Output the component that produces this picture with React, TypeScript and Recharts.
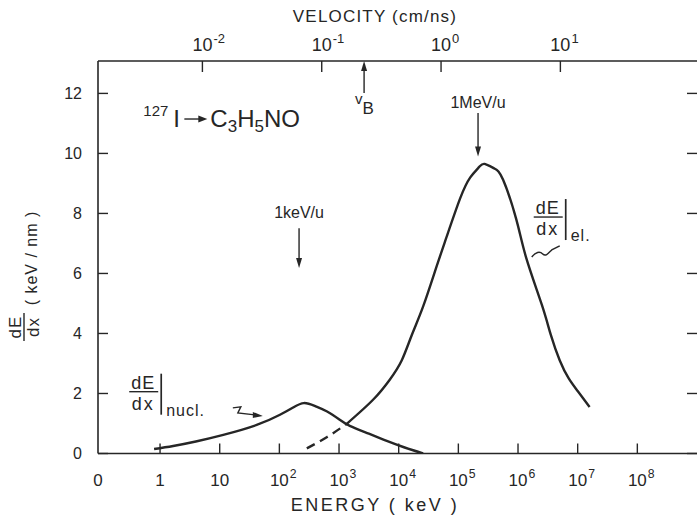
import React from 'react';
import { LineChart, Line, XAxis, YAxis, ReferenceLine, ReferenceDot } from 'recharts';

const INK = '#262626';
const FONT = '"Liberation Sans", Arial, sans-serif';

// frame of the plot in px (the right border sits just off the picture)
const LEFT = 98;
const TOP = 61;
const BOTTOM = 453.5;
const RIGHT = 697;

// x = log10(E / keV), y = dE/dx (keV/nm)
const nuclear = [
  { logE: -0.1, dedx: 0.15 },
  { logE: 0.22, dedx: 0.25 },
  { logE: 0.6, dedx: 0.4 },
  { logE: 1.06, dedx: 0.62 },
  { logE: 1.62, dedx: 0.95 },
  { logE: 2.01, dedx: 1.29 },
  { logE: 2.23, dedx: 1.53 },
  { logE: 2.41, dedx: 1.68 },
  { logE: 2.6, dedx: 1.58 },
  { logE: 2.8, dedx: 1.4 },
  { logE: 3.0, dedx: 1.14 },
  { logE: 3.18, dedx: 0.92 },
  { logE: 3.5, dedx: 0.66 },
  { logE: 3.8, dedx: 0.42 },
  { logE: 4.1, dedx: 0.2 },
  { logE: 4.41, dedx: 0 },
];

// dashed extrapolation of the electronic stopping
const electronicLow = [
  { logE: 2.46, dedx: 0.17 },
  { logE: 2.8, dedx: 0.55 },
  { logE: 3.13, dedx: 0.99 },
];

const electronic = [
  { logE: 3.13, dedx: 0.99 },
  { logE: 3.57, dedx: 1.79 },
  { logE: 3.85, dedx: 2.46 },
  { logE: 4.05, dedx: 3.1 },
  { logE: 4.22, dedx: 3.95 },
  { logE: 4.41, dedx: 4.9 },
  { logE: 4.63, dedx: 6.2 },
  { logE: 4.8, dedx: 7.2 },
  { logE: 5.03, dedx: 8.5 },
  { logE: 5.2, dedx: 9.2 },
  { logE: 5.35, dedx: 9.55 },
  { logE: 5.44, dedx: 9.65 },
  { logE: 5.6, dedx: 9.5 },
  { logE: 5.75, dedx: 9.12 },
  { logE: 5.97, dedx: 7.81 },
  { logE: 6.14, dedx: 6.5 },
  { logE: 6.4, dedx: 4.95 },
  { logE: 6.55, dedx: 3.95 },
  { logE: 6.7, dedx: 3.1 },
  { logE: 6.85, dedx: 2.5 },
  { logE: 7.0, dedx: 2.08 },
  { logE: 7.2, dedx: 1.55 },
];

const energyTicks = [-1.04, 0, 1, 2, 3, 4, 5, 6, 7, 8];
const energyLabels = ['0', '1', '10', '10^2', '10^3', '10^4', '10^5', '10^6', '10^7', '10^8'];
// velocity ticks, placed at their log10(E) position
const velocityTicks = [0.71, 2.71, 4.71, 6.71];
const velocityLabels = ['10^-2', '10^-1', '10^0', '10^1'];
const dedxTicks = [0, 2, 4, 6, 8, 10, 12];

const vBohr = 3.42;
const keVperU = 2.33;
const MeVperU = 5.33;

const Power = ({ x, y, text, size }: { x: number; y: number; text: string; size: number }) => {
  const [base, exp] = text.split('^');
  const half = (base.length * size * 0.556) / 2;
  return (
    <text x={x - half} y={y} fontSize={size} fontFamily={FONT} fill={INK}>
      {base}
      {exp !== undefined && (
        <tspan dx={1} dy={-size * 0.45} fontSize={size * 0.72}>
          {exp}
        </tspan>
      )}
    </text>
  );
};

const EnergyTick = (props: any) => {
  const { x, payload } = props;
  const i = energyTicks.indexOf(payload.value);
  return (
    <g>
      {i > 0 && <line x1={x} x2={x} y1={BOTTOM} y2={BOTTOM - 10} stroke={INK} strokeWidth={1.4} />}
      <Power x={x} y={BOTTOM + 32} text={energyLabels[i]} size={17} />
    </g>
  );
};

const VelocityTick = (props: any) => {
  const { x, payload } = props;
  const i = velocityTicks.indexOf(payload.value);
  return (
    <g>
      <line x1={x} x2={x} y1={TOP} y2={TOP + 11} stroke={INK} strokeWidth={1.4} />
      <Power x={x} y={TOP - 10} text={velocityLabels[i]} size={18} />
    </g>
  );
};

const DedxTick = (props: any) => {
  const { y, payload } = props;
  return (
    <g>
      <line x1={LEFT} x2={LEFT + 10} y1={y} y2={y} stroke={INK} strokeWidth={1.4} />
      <line x1={RIGHT - 10} x2={RIGHT} y1={y} y2={y} stroke={INK} strokeWidth={1.4} />
      <text x={LEFT - 16} y={y + 5.5} textAnchor="end" fontSize={16} fontFamily={FONT} fill={INK}>
        {payload.value}
      </text>
    </g>
  );
};

const arrowLine = (props: any) => {
  const { x1, y1, x2, y2 } = props;
  const dir = Math.sign(y2 - y1);
  return (
    <g>
      <line x1={x1} y1={y1} x2={x2} y2={y2 - dir * 6} stroke={INK} strokeWidth={1.4} />
      <path d={`M${x2},${y2} L${x2 - 3},${y2 - dir * 10} L${x2 + 3},${y2 - dir * 10} Z`} fill={INK} />
    </g>
  );
};

const Formula = ({ cx, cy }: any) => (
  <g fontFamily={FONT} fill={INK}>
    <text x={cx} y={cy} fontSize={24}>
      <tspan fontSize={15} dy={-11}>127</tspan>
      <tspan dy={11} dx={5}>I</tspan>
    </text>
    <line x1={cx + 41} x2={cx + 58} y1={cy - 8} y2={cy - 8} stroke={INK} strokeWidth={1.4} />
    <path d={`M${cx + 64},${cy - 8} L${cx + 55},${cy - 11.5} L${cx + 55},${cy - 4.5} Z`} fill={INK} />
    <text x={cx + 67} y={cy} fontSize={24}>
      C<tspan fontSize={17} dy={5}>3</tspan>
      <tspan dy={-5}>H</tspan>
      <tspan fontSize={17} dy={5}>5</tspan>
      <tspan dy={-5}>NO</tspan>
    </text>
  </g>
);

const Fraction = ({ cx, cy, sub }: any) => (
  <g fontFamily={FONT} fill={INK}>
    <text x={cx + 13} y={cy - 3} textAnchor="middle" fontSize={18} letterSpacing={1}>dE</text>
    <line x1={cx - 1} x2={cx + 28} y1={cy} y2={cy} stroke={INK} strokeWidth={1.4} />
    <text x={cx + 13} y={cy + 18} textAnchor="middle" fontSize={18} letterSpacing={2}>dx</text>
    <line x1={cx + 31} x2={cx + 31} y1={cy - 18} y2={cy + 23} stroke={INK} strokeWidth={1.7} />
    <text x={cx + 36} y={cy + 24} fontSize={16} letterSpacing={1}>{sub}</text>
  </g>
);

const Note = ({ cx, cy, text }: any) => (
  <text x={cx} y={cy} textAnchor="middle" fontSize={16} fontFamily={FONT} fill={INK}>
    {text}
  </text>
);

const VB = ({ cx, cy }: any) => (
  <text x={cx - 9} y={cy + 11} fontFamily={FONT} fill={INK} fontSize={15}>
    v<tspan dy={10} fontSize={17}>B</tspan>
  </text>
);

const nuclSquiggle = ({ cx, cy }: any) => (
  <g>
    <path
      d={`M${cx},${cy} L${cx + 8},${cy - 1} L${cx + 5},${cy + 5} L${cx + 22},${cy + 7}`}
      fill="none"
      stroke={INK}
      strokeWidth={1.4}
    />
    <path d={`M${cx + 30},${cy + 8} L${cx + 20},${cy + 4} L${cx + 20},${cy + 10} Z`} fill={INK} />
  </g>
);

const elSquiggle = ({ cx, cy }: any) => (
  <path
    d={`M${cx},${cy} C${cx + 4},${cy - 5} ${cx + 8},${cy - 6} ${cx + 11},${cy - 3} C${cx + 14},${cy} ${cx + 17},${cy - 4} ${cx + 20},${cy - 7} L${cx + 28},${cy - 11}`}
    fill="none"
    stroke={INK}
    strokeWidth={1.4}
  />
);

const TopTitle = () => (
  <text x={375} y={22} textAnchor="middle" fontSize={17} letterSpacing={1.2} fontFamily={FONT} fill={INK}>
    VELOCITY (cm/ns)
  </text>
);

const BottomTitle = () => (
  <text x={375} y={511} textAnchor="middle" fontSize={18} letterSpacing={2.5} fontFamily={FONT} fill={INK}>
    ENERGY ( keV )
  </text>
);

const YTitle = () => (
  <g transform="rotate(-90)" fontFamily={FONT} fill={INK}>
    <text x={-327} y={21} textAnchor="middle" fontSize={17} letterSpacing={1}>dE</text>
    <line x1={-341} x2={-313} y1={24} y2={24} stroke={INK} strokeWidth={1.4} />
    <text x={-327} y={39} textAnchor="middle" fontSize={17} letterSpacing={1}>dx</text>
    <text x={-258} y={37} textAnchor="middle" fontSize={16} letterSpacing={1}>( keV / nm )</text>
  </g>
);

const App = () => (
  <div style={{ position: 'absolute', left: 0, top: 0, background: '#fff' }}>
    <LineChart width={697} height={520} margin={{ top: 0, right: 0, bottom: 0, left: 0 }}>
      <XAxis
        dataKey="logE"
        type="number"
        domain={[-1.04, 9]}
        ticks={energyTicks}
        interval={0}
        tick={EnergyTick}
        tickLine={false}
        height={520 - BOTTOM}
        axisLine={{ stroke: INK, strokeWidth: 1.6 }}
        allowDataOverflow
        label={<BottomTitle />}
      />
      <XAxis
        xAxisId="v"
        orientation="top"
        dataKey="logE"
        type="number"
        domain={[-1.04, 9]}
        ticks={velocityTicks}
        interval={0}
        tick={VelocityTick}
        tickLine={false}
        height={TOP}
        axisLine={{ stroke: INK, strokeWidth: 1.6 }}
        allowDataOverflow
        label={<TopTitle />}
      />
      <YAxis
        type="number"
        domain={[0, 13.08]}
        ticks={dedxTicks}
        interval={0}
        tick={DedxTick}
        tickLine={false}
        width={LEFT}
        axisLine={{ stroke: INK, strokeWidth: 1.6 }}
        allowDataOverflow
        label={<YTitle />}
      />
      <Line
        data={nuclear}
        dataKey="dedx"
        type="natural"
        stroke={INK}
        strokeWidth={2.4}
        dot={false}
        isAnimationActive={false}
      />
      <Line
        data={electronicLow}
        dataKey="dedx"
        type="natural"
        stroke={INK}
        strokeWidth={2.4}
        strokeDasharray="9 6"
        dot={false}
        isAnimationActive={false}
      />
      <Line
        data={electronic}
        dataKey="dedx"
        type="natural"
        stroke={INK}
        strokeWidth={2.4}
        dot={false}
        isAnimationActive={false}
      />
      <ReferenceLine
        segment={[{ x: vBohr, y: 12.01 }, { x: vBohr, y: 13.08 }]}
        shape={arrowLine}
        ifOverflow="visible"
      />
      <ReferenceLine
        segment={[{ x: MeVperU, y: 11.35 }, { x: MeVperU, y: 9.9 }]}
        shape={arrowLine}
        ifOverflow="visible"
      />
      <ReferenceLine
        segment={[{ x: keVperU, y: 7.51 }, { x: keVperU, y: 6.18 }]}
        shape={arrowLine}
        ifOverflow="visible"
      />
      <ReferenceDot x={vBohr} y={12.01} r={0} ifOverflow="visible" shape={(p: any) => <VB {...p} />} />
      <ReferenceDot x={MeVperU} y={11.51} r={0} ifOverflow="visible" shape={(p: any) => <Note {...p} text="1MeV/u" />} />
      <ReferenceDot x={keVperU} y={7.85} r={0} ifOverflow="visible" shape={(p: any) => <Note {...p} text="1keV/u" />} />
      <ReferenceDot x={-0.28} y={10.88} r={0} ifOverflow="visible" shape={(p: any) => <Formula {...p} />} />
      <ReferenceDot x={6.28} y={7.88} r={0} ifOverflow="visible" shape={(p: any) => <Fraction {...p} sub="el." />} />
      <ReferenceDot x={-0.5} y={2.06} r={0} ifOverflow="visible" shape={(p: any) => <Fraction {...p} sub="nucl." />} />
      <ReferenceDot x={1.22} y={1.52} r={0} ifOverflow="visible" shape={nuclSquiggle} />
      <ReferenceDot x={6.23} y={6.55} r={0} ifOverflow="visible" shape={elSquiggle} />
    </LineChart>
  </div>
);

export default App;
